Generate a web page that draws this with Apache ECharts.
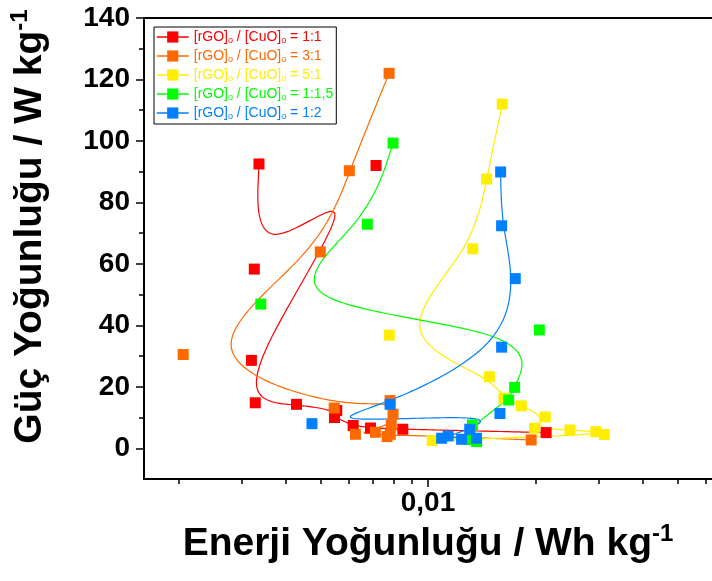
<!DOCTYPE html>
<html><head><meta charset="utf-8">
<script src="https://cdn.jsdelivr.net/npm/echarts@6/dist/echarts.min.js"></script>
<style>html,body{margin:0;padding:0;background:#fff}#c{width:712px;height:581px}</style>
</head><body><div id="c"></div>
<script>
// ---- data (Energy density Wh/kg, Power density W/kg) in plotted (spline control) order ----
const seriesNames = ['1:1', '3:1', '5:1', '1:1,5', '1:2'];
const colors = ['#FF0000', '#FF6A00', '#FFEE00', '#00FF00', '#0080FF'];

const red = [[0.00336, 92.5], [0.00326, 58.3], [0.00715, 92.0], [0.00320, 28.6], [0.00328, 14.8],
  [0.00428, 14.3], [0.00555, 12.3], [0.00547, 10.0], [0.00617, 7.4], [0.00690, 6.6],
  [0.00850, 6.2], [0.02143, 5.1]];
const orange = [[0.00778, 122.0], [0.00602, 90.3], [0.00499, 63.9], [0.00206, 30.5], [0.00546, 13.1],
  [0.00783, 15.5], [0.00798, 11.1], [0.00789, 7.6], [0.00626, 4.55], [0.00712, 5.2],
  [0.00768, 3.8], [0.00784, 4.55], [0.01946, 2.7]];
const yellow = [[0.01615, 112.0], [0.01460, 87.6], [0.01335, 64.9], [0.00779, 36.8], [0.01486, 23.3],
  [0.01633, 16.3], [0.01826, 13.8], [0.02130, 10.2], [0.01988, 6.5], [0.02500, 5.96],
  [0.02954, 5.4], [0.03120, 4.5], [0.01028, 2.5]];
const green = [[0.00798, 99.3], [0.00676, 72.9], [0.00340, 46.9], [0.02051, 38.5], [0.01749, 19.8],
  [0.01683, 15.7], [0.01332, 7.6], [0.01301, 2.85], [0.01369, 2.2]];
const blue = [[0.01598, 89.9], [0.01608, 72.4], [0.01756, 55.2], [0.01608, 32.9], [0.00783, 14.3],
  [0.00473, 8.0], [0.01591, 11.3], [0.01309, 6.2], [0.01092, 3.26], [0.01139, 4.0],
  [0.01242, 2.93], [0.01367, 3.26]];
const allData = [red, orange, yellow, green, blue];

// ---- tick values ----
const xMajorTicks = [0.01];
const xMinorTicks = [0.002, 0.003, 0.004, 0.005, 0.006, 0.007, 0.008, 0.009, 0.02, 0.03, 0.04, 0.05, 0.06];
const yMajorTicks = [0, 20, 40, 60, 80, 100, 120, 140];
const yMinorTicks = [10, 30, 50, 70, 90, 110, 130];

const FONT = '"Liberation Sans", Arial, sans-serif';

// uniform cubic B-spline with tripled end points (curve starts/ends on end points)
function bspline(pts, steps) {
  const n = pts.length;
  const P = [pts[0], pts[0]].concat(pts, [pts[n - 1], pts[n - 1]]);
  const out = [];
  for (let i = 0; i + 3 < P.length; i++) {
    for (let s = 0; s <= steps; s++) {
      if (i > 0 && s === 0) continue;
      const t = s / steps, t2 = t * t, t3 = t2 * t;
      const b0 = (1 - t) * (1 - t) * (1 - t) / 6;
      const b1 = (3 * t3 - 6 * t2 + 4) / 6;
      const b2 = (-3 * t3 + 3 * t2 + 3 * t + 1) / 6;
      const b3 = t3 / 6;
      out.push([
        b0 * P[i][0] + b1 * P[i + 1][0] + b2 * P[i + 2][0] + b3 * P[i + 3][0],
        b0 * P[i][1] + b1 * P[i + 1][1] + b2 * P[i + 2][1] + b3 * P[i + 3][1]
      ]);
    }
  }
  return out;
}

const series = [];
allData.forEach((arr, i) => {
  series.push({
    type: 'custom',
    name: seriesNames[i] + ' curve',
    coordinateSystem: 'cartesian2d',
    xAxisIndex: 0, yAxisIndex: 0,
    data: arr,
    encode: { x: 0, y: 1 },
    silent: true,
    renderItem: function (params, api) {
      if (params.dataIndex !== 0) return null;
      const pts = arr.map(d => api.coord(d));
      return {
        type: 'polyline',
        shape: { points: bspline(pts, 24) },
        style: { stroke: colors[i], lineWidth: 1.2, fill: null }
      };
    }
  });
  series.push({
    type: 'line',
    name: seriesNames[i],
    xAxisIndex: 0, yAxisIndex: 0,
    data: arr,
    symbol: 'rect',
    symbolSize: 11,
    showSymbol: true,
    lineStyle: { width: 0, color: colors[i] },
    itemStyle: { color: colors[i], opacity: 1 },
    animation: false
  });
});

const rich = {};
colors.forEach((c, i) => {
  rich['t' + i] = { color: c, fontSize: 14, fontFamily: FONT, lineHeight: 16 };
  rich['s' + i] = { color: c, fontSize: 9, fontFamily: FONT, lineHeight: 16, verticalAlign: 'bottom' };
});

const chart = echarts.init(document.getElementById('c'), null, { renderer: 'canvas' });
chart.setOption({
  animation: false,
  backgroundColor: '#fff',
  grid: { left: 144, right: 0, top: 18, bottom: 102, containLabel: false },
  legend: {
    orient: 'vertical',
    left: 154, top: 27,
    padding: [3, 3, 3, 2],
    itemGap: 4,
    itemWidth: 32, itemHeight: 14,
    borderColor: '#000', borderWidth: 1,
    backgroundColor: '#fff',
    data: seriesNames,
    lineStyle: { width: 1.5 },
    formatter: function (name) {
      const i = seriesNames.indexOf(name);
      return '{t' + i + '|[rGO]}{s' + i + '|o}{t' + i + '| / [CuO]}{s' + i + '|o}{t' + i + '| = ' + name + '}';
    },
    textStyle: { rich: rich, padding: [0, 0, 0, 0] }
  },
  xAxis: [
    {
      type: 'log', logBase: 10, min: 0.0016, max: 0.0625, position: 'bottom',
      axisLine: { onZero: false, lineStyle: { color: '#000', width: 2 } },
      axisTick: { show: true, inside: false, length: 8, customValues: xMajorTicks, lineStyle: { color: '#000', width: 1.5 } },
      minorTick: { show: false },
      splitLine: { show: false },
      axisLabel: {
        customValues: xMajorTicks, margin: 10,
        fontSize: 28, fontWeight: 'bold', fontFamily: FONT, color: '#000',
        formatter: v => String(v).replace('.', ',')
      },
      name: '{a|Enerji Yoğunluğu / Wh kg}{b|-1}',
      nameLocation: 'middle', nameGap: 33,
      nameTextStyle: {
        rich: {
          a: { fontSize: 39, fontWeight: 'bold', fontFamily: FONT, color: '#000', lineHeight: 44 },
          b: { fontSize: 24, fontWeight: 'bold', fontFamily: FONT, color: '#000', lineHeight: 44, verticalAlign: 'top' }
        }
      }
    },
    {
      type: 'log', logBase: 10, min: 0.0016, max: 0.0625, position: 'bottom',
      axisLine: { show: false, onZero: false },
      axisTick: { show: true, inside: false, length: 5, customValues: xMinorTicks, lineStyle: { color: '#000', width: 1.5 } },
      axisLabel: { show: false },
      splitLine: { show: false }
    },
    {
      type: 'log', logBase: 10, min: 0.0016, max: 0.0625, position: 'top',
      axisLine: { show: true, onZero: false, lineStyle: { color: '#000', width: 2 } },
      axisTick: { show: false }, axisLabel: { show: false }, splitLine: { show: false }
    }
  ],
  yAxis: [
    {
      type: 'value', min: -10, max: 140, position: 'left',
      axisLine: { show: true, onZero: false, lineStyle: { color: '#000', width: 2 } },
      axisTick: { show: true, inside: false, length: 8, customValues: yMajorTicks, lineStyle: { color: '#000', width: 1.5 } },
      splitLine: { show: false },
      axisLabel: {
        customValues: yMajorTicks, margin: 14,
        fontSize: 28, fontWeight: 'bold', fontFamily: FONT, color: '#000'
      },
      name: '{a|Güç Yoğunluğu / W kg}{b|-1}',
      nameLocation: 'middle', nameGap: 92,
      nameTextStyle: {
        padding: [0, 0, 0, 44],
        rich: {
          a: { fontSize: 39, fontWeight: 'bold', fontFamily: FONT, color: '#000', lineHeight: 44 },
          b: { fontSize: 24, fontWeight: 'bold', fontFamily: FONT, color: '#000', lineHeight: 44, verticalAlign: 'top' }
        }
      }
    },
    {
      type: 'value', min: -10, max: 140, position: 'left', offset: 0,
      axisLine: { show: false, onZero: false },
      axisTick: { show: true, inside: false, length: 5, customValues: yMinorTicks, lineStyle: { color: '#000', width: 1.5 } },
      axisLabel: { show: false },
      splitLine: { show: false }
    }
  ],
  series: series
});
</script>
</body></html>
